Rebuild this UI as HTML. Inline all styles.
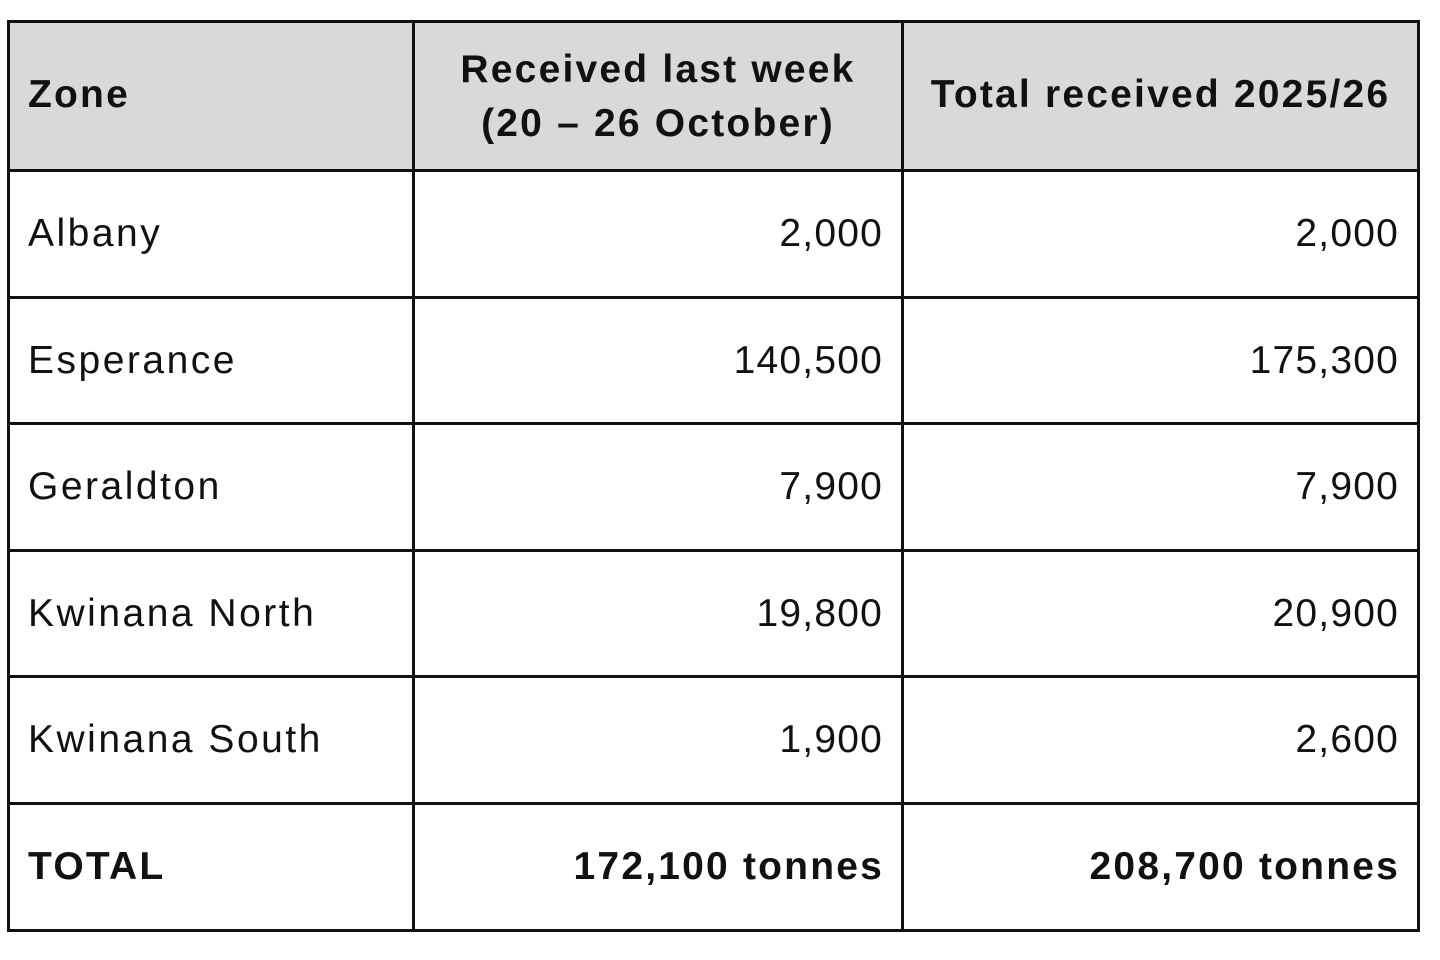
<!DOCTYPE html><html><head><style>
body{margin:0;width:1440px;height:960px;background:#fff;position:relative;font-family:"Liberation Sans",sans-serif;overflow:hidden}
.h{position:absolute;left:7px;width:1413px;height:3px;background:#111}
.v{position:absolute;top:20px;height:912px;width:3px;background:#111}
.t{position:absolute;font-size:39px;color:#111;line-height:44px;white-space:nowrap;letter-spacing:2.5px}
.b{font-weight:bold;letter-spacing:2.2px}
.r{text-align:right}
.n{letter-spacing:1.2px}
</style></head><body>
<div style="position:absolute;left:7px;top:20px;width:1413px;height:151px;background:#d9d9d9"></div>
<div class="h" style="top:20px"></div><div class="h" style="top:169px"></div><div class="h" style="top:296px"></div><div class="h" style="top:422px"></div><div class="h" style="top:549px"></div><div class="h" style="top:675px"></div><div class="h" style="top:802px"></div><div class="h" style="top:929px"></div>
<div class="v" style="left:7px"></div><div class="v" style="left:412px"></div><div class="v" style="left:901px"></div><div class="v" style="left:1417px"></div>
<div class="t b" style="left:28px;top:73px">Zone</div>
<div class="t b" style="left:415px;width:486px;text-align:center;top:43px;line-height:54px">Received last week<br>(20 – 26 October)</div>
<div class="t b" style="left:904px;width:513px;text-align:center;top:73px">Total received 2025/26</div>
<div class="t" style="left:28px;top:212px">Albany</div><div class="t r n" style="right:557px;top:212px">2,000</div><div class="t r n" style="right:41px;top:212px">2,000</div>
<div class="t" style="left:28px;top:339px">Esperance</div><div class="t r n" style="right:557px;top:339px">140,500</div><div class="t r n" style="right:41px;top:339px">175,300</div>
<div class="t" style="left:28px;top:465px">Geraldton</div><div class="t r n" style="right:557px;top:465px">7,900</div><div class="t r n" style="right:41px;top:465px">7,900</div>
<div class="t" style="left:28px;top:592px">Kwinana North</div><div class="t r n" style="right:557px;top:592px">19,800</div><div class="t r n" style="right:41px;top:592px">20,900</div>
<div class="t" style="left:28px;top:718px">Kwinana South</div><div class="t r n" style="right:557px;top:718px">1,900</div><div class="t r n" style="right:41px;top:718px">2,600</div>
<div class="t b" style="left:28px;top:845px">TOTAL</div><div class="t b r" style="right:556px;top:845px">172,100 tonnes</div><div class="t b r" style="right:40px;top:845px">208,700 tonnes</div>
</body></html>
